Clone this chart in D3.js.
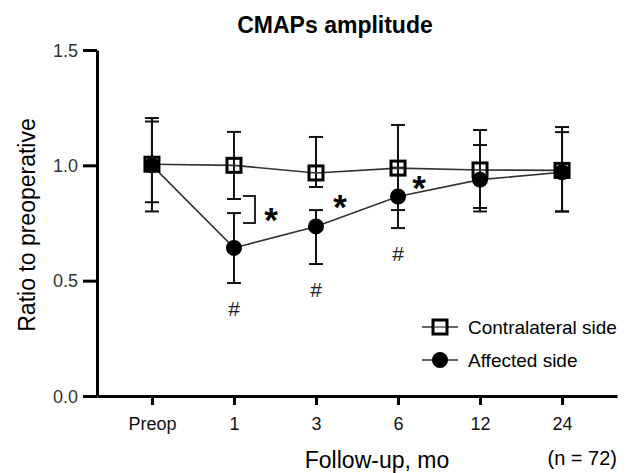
<!DOCTYPE html>
<html>
<head>
<meta charset="utf-8">
<script src="https://cdn.jsdelivr.net/npm/d3@7"></script>
<style>
  body { margin: 0; background: #fff; }
  svg { font-family: "Liberation Sans", Arial, sans-serif; }
</style>
</head>
<body>
<div id="chart"></div>
<script>
// categories on the x axis
const categories = ["Preop", "1", "3", "6", "12", "24"]
const yTicks = [0, 0.5, 1.0, 1.5]

// contralateral side: mean, upper and lower error bar ends
const contraMean  = [1.005, 1.00, 0.967, 0.988, 0.98, 0.978]
const contraUpper = [1.205, 1.145, 1.123, 1.175, 1.153, 1.166]
const contraLower = [0.80, 0.854, 0.906, 0.806, 0.80, 0.80]

// affected side
const affMean  = [1.00, 0.642, 0.735, 0.865, 0.938, 0.97]
const affUpper = [1.19, 0.793, 0.806, 0.99, 1.088, 1.144]
const affLower = [0.84, 0.49, 0.572, 0.728, 0.815, 0.80]

// significance marks
const hashAt = ["1", "3", "6"]
const bracket = { at: "1", top: 0.867, bottom: 0.75 }
const stars = [
  { at: "1", dx: 37, value: 0.798 },
  { at: "3", dx: 24, value: 0.854 },
  { at: "6", dx: 21, value: 0.936 }
]

const WIDTH = 631, HEIGHT = 473

const svg = d3.select("#chart").append("svg")
  .attr("width", WIDTH)
  .attr("height", HEIGHT)

const x = d3.scalePoint()
  .domain(categories)
  .range([97, 617])
  .padding(0.67)

const y = d3.scaleLinear()
  .domain([0, 1.5])
  .range([396, 50])

// Title
svg.append("text")
  .attr("x", 335)
  .attr("y", 33)
  .attr("text-anchor", "middle")
  .attr("font-size", "23px")
  .attr("font-weight", "bold")
  .text("CMAPs amplitude")

// Y label
svg.append("text")
  .attr("transform", `translate(35, ${(50 + 396) / 2 + 2}) rotate(-90)`)
  .attr("text-anchor", "middle")
  .attr("font-size", "23px")
  .text("Ratio to preoperative")

// X label
svg.append("text")
  .attr("x", 377)
  .attr("y", 468)
  .attr("text-anchor", "middle")
  .attr("font-size", "23px")
  .text("Follow-up, mo")

svg.append("text")
  .attr("x", 617)
  .attr("y", 465)
  .attr("text-anchor", "end")
  .attr("font-size", "20px")
  .text("(n = 72)")

// axes
const yAxis = svg.append("g")
  .attr("transform", "translate(97, 0)")
  .call(d3.axisLeft(y).tickValues(yTicks).tickFormat(d3.format(".1f")).tickSize(14).tickSizeOuter(0).tickPadding(5))
yAxis.selectAll("path, line").attr("stroke", "#000").attr("stroke-width", 3)
yAxis.selectAll("text").attr("font-size", "18px").attr("fill", "#333").attr("font-family", "Liberation Sans, Arial").attr("dy", "0.35em")

const xAxis = svg.append("g")
  .attr("transform", "translate(0, 396)")
  .call(d3.axisBottom(x).tickSize(9).tickSizeOuter(0).tickPadding(12))
xAxis.selectAll("path, line").attr("stroke", "#000").attr("stroke-width", 3)
xAxis.selectAll("text").attr("font-size", "18px").attr("fill", "#111").attr("font-family", "Liberation Sans, Arial")

const contra = categories.map((c, i) => ({ c, m: contraMean[i], hi: contraUpper[i], lo: contraLower[i] }))
const aff = categories.map((c, i) => ({ c, m: affMean[i], hi: affUpper[i], lo: affLower[i] }))

const line = d3.line().x(d => x(d.c)).y(d => y(d.m))

const drawErr = (data) => {
  const g = svg.append("g").attr("stroke", "#111").attr("stroke-width", 2)
  data.forEach(d => {
    g.append("line").attr("x1", x(d.c)).attr("x2", x(d.c)).attr("y1", y(d.hi)).attr("y2", y(d.lo))
    g.append("line").attr("x1", x(d.c) - 7).attr("x2", x(d.c) + 7).attr("y1", y(d.hi)).attr("y2", y(d.hi))
    g.append("line").attr("x1", x(d.c) - 7).attr("x2", x(d.c) + 7).attr("y1", y(d.lo)).attr("y2", y(d.lo))
  })
}

drawErr(contra)
drawErr(aff)

svg.append("path").datum(contra).attr("d", line).attr("fill", "none").attr("stroke", "#333").attr("stroke-width", 1.6)
svg.append("path").datum(aff).attr("d", line).attr("fill", "none").attr("stroke", "#333").attr("stroke-width", 1.6)

// markers
svg.selectAll(".circ").data(aff).enter().append("circle")
  .attr("cx", d => x(d.c))
  .attr("cy", d => y(d.m))
  .attr("r", 8)
  .attr("fill", "#000")

svg.selectAll(".sq").data(contra).enter().append("rect")
  .attr("x", d => x(d.c) - 7)
  .attr("y", d => y(d.m) - 7)
  .attr("width", 14)
  .attr("height", 14)
  .attr("fill", "none")
  .attr("stroke", "#000")
  .attr("stroke-width", 3)

// hash marks below affected error bars
aff.filter(d => hashAt.includes(d.c)).forEach(d => {
  svg.append("text")
    .attr("x", x(d.c))
    .attr("y", y(d.lo) + 33)
    .attr("text-anchor", "middle")
    .attr("font-size", "21px")
    .attr("fill", "#222")
    .text("#")
})

// bracket between the two 1-month error bars
const bx = x(bracket.at) + 9
svg.append("path")
  .attr("d", `M${bx},${y(bracket.top)} H${bx + 12} V${y(bracket.bottom)} H${bx}`)
  .attr("fill", "none")
  .attr("stroke", "#222")
  .attr("stroke-width", 2)

stars.forEach(s => {
  svg.append("text")
    .attr("x", x(s.at) + s.dx)
    .attr("y", y(s.value) + 20)
    .attr("text-anchor", "middle")
    .attr("font-size", "35px")
    .attr("font-weight", "bold")
    .text("*")
})

// legend
const legend = [
  { name: "Contralateral side", type: "sq", y: 327 },
  { name: "Affected side", type: "circ", y: 360 }
]
legend.forEach(l => {
  const g = svg.append("g").attr("transform", `translate(440, ${l.y})`)
  g.append("line").attr("x1", -18).attr("x2", 18).attr("stroke", "#333").attr("stroke-width", 1.6)
  if (l.type === "sq") {
    g.append("rect").attr("x", -7).attr("y", -7).attr("width", 14).attr("height", 14)
      .attr("fill", "#fff").attr("stroke", "#000").attr("stroke-width", 3)
    g.append("line").attr("x1", -6).attr("x2", 6).attr("stroke", "#333").attr("stroke-width", 1.2)
  } else {
    g.append("circle").attr("r", 8).attr("fill", "#000")
  }
  g.append("text")
    .attr("x", 28)
    .attr("dy", "0.35em")
    .attr("font-size", "19px")
    .text(l.name)
})
</script>
</body>
</html>
